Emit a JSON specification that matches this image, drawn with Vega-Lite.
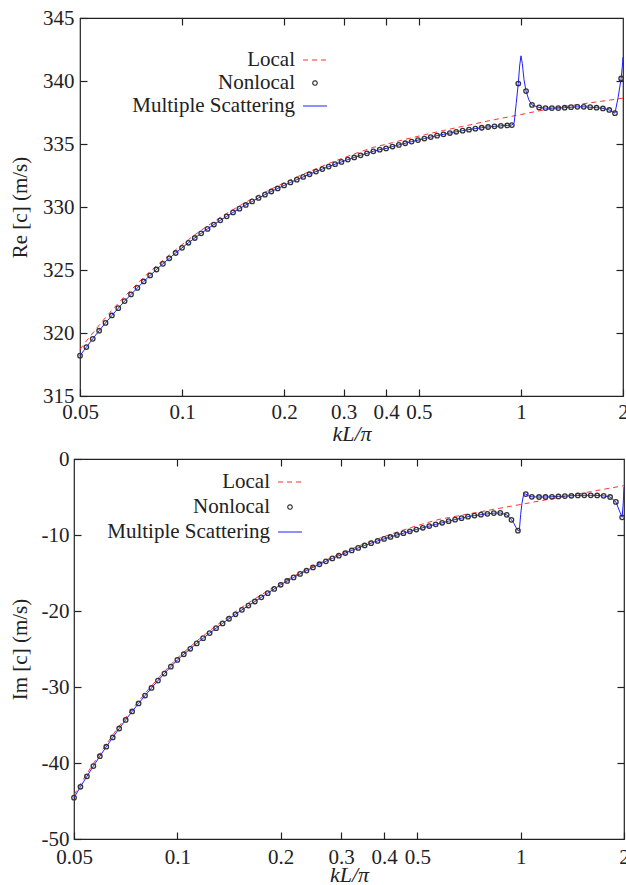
{
  "$schema": "https://vega.github.io/schema/vega-lite/v6.json",
  "background": "white",
  "padding": {"left": 7, "top": 6, "right": 0, "bottom": 0},
  "config": {
    "font": "Liberation Serif",
    "view": {"stroke": "#222222", "strokeWidth": 1.2},
    "axis": {
      "domain": false, "grid": false, "ticks": true,
      "tickColor": "#222222", "tickWidth": 1.2, "tickSize": -7,
      "labelFont": "Liberation Serif", "labelFontSize": 21, "labelColor": "#222222",
      "titleFont": "Liberation Serif", "titleFontSize": 21, "titleFontWeight": "normal", "titleColor": "#222222",
      "labelFlush": false, "labelOverlap": false
    }
  },
  "datasets": {
    "non": [
      {"x":0.05,"re":318.2,"im":-44.56},{"x":0.05221,"re":318.88,"im":-43.13},{"x":0.05453,"re":319.54,"im":-41.75},{"x":0.05694,"re":320.18,"im":-40.41},
      {"x":0.05946,"re":320.8,"im":-39.11},{"x":0.06209,"re":321.39,"im":-37.86},{"x":0.06484,"re":321.97,"im":-36.64},{"x":0.06771,"re":322.53,"im":-35.46},
      {"x":0.07071,"re":323.06,"im":-34.33},{"x":0.07384,"re":323.58,"im":-33.22},{"x":0.07711,"re":324.09,"im":-32.16},{"x":0.08052,"re":324.57,"im":-31.13},
      {"x":0.08409,"re":325.04,"im":-30.13},{"x":0.08781,"re":325.49,"im":-29.16},{"x":0.0917,"re":325.93,"im":-28.23},{"x":0.09576,"re":326.35,"im":-27.32},
      {"x":0.1,"re":326.76,"im":-26.44},{"x":0.10443,"re":327.16,"im":-25.69},{"x":0.10905,"re":327.54,"im":-24.97},{"x":0.11388,"re":327.91,"im":-24.26},
      {"x":0.11892,"re":328.26,"im":-23.58},{"x":0.12419,"re":328.61,"im":-22.91},{"x":0.12968,"re":328.94,"im":-22.26},{"x":0.13543,"re":329.26,"im":-21.63},
      {"x":0.14142,"re":329.57,"im":-21.02},{"x":0.14768,"re":329.87,"im":-20.43},{"x":0.15422,"re":330.16,"im":-19.85},{"x":0.16105,"re":330.44,"im":-19.29},
      {"x":0.16818,"re":330.72,"im":-18.75},{"x":0.17563,"re":330.98,"im":-18.2},{"x":0.1834,"re":331.23,"im":-17.65},{"x":0.19152,"re":331.47,"im":-17.1},
      {"x":0.2,"re":331.71,"im":-16.55},{"x":0.20885,"re":331.95,"im":-16.05},{"x":0.2181,"re":332.17,"im":-15.58},{"x":0.22776,"re":332.39,"im":-15.12},
      {"x":0.23784,"re":332.6,"im":-14.68},{"x":0.24837,"re":332.81,"im":-14.26},{"x":0.25937,"re":333.01,"im":-13.85},{"x":0.27085,"re":333.21,"im":-13.46},
      {"x":0.28284,"re":333.4,"im":-13.08},{"x":0.29537,"re":333.58,"im":-12.72},{"x":0.30844,"re":333.76,"im":-12.37},{"x":0.3221,"re":333.93,"im":-12.03},
      {"x":0.33636,"re":334.1,"im":-11.7},{"x":0.35125,"re":334.26,"im":-11.38},{"x":0.3668,"re":334.42,"im":-11.07},{"x":0.38304,"re":334.55,"im":-10.78},
      {"x":0.4,"re":334.65,"im":-10.52},{"x":0.41771,"re":334.8,"im":-10.26},{"x":0.4362,"re":334.93,"im":-10.0},{"x":0.45552,"re":335.06,"im":-9.76},
      {"x":0.47568,"re":335.19,"im":-9.51},{"x":0.49674,"re":335.31,"im":-9.28},{"x":0.51874,"re":335.43,"im":-9.05},{"x":0.5417,"re":335.55,"im":-8.82},
      {"x":0.56568,"re":335.66,"im":-8.6},{"x":0.59073,"re":335.77,"im":-8.39},{"x":0.61688,"re":335.87,"im":-8.18},{"x":0.6442,"re":335.97,"im":-7.98},
      {"x":0.67272,"re":336.06,"im":-7.78},{"x":0.7025,"re":336.14,"im":-7.59},{"x":0.7336,"re":336.22,"im":-7.45},{"x":0.76608,"re":336.29,"im":-7.33},
      {"x":0.8,"re":336.35,"im":-7.22},{"x":0.83542,"re":336.4,"im":-7.12},{"x":0.87241,"re":336.44,"im":-7.1},{"x":0.91103,"re":336.47,"im":-7.35},
      {"x":0.94,"re":336.5,"im":-8.0},{"x":0.982,"re":339.8,"im":-9.43},{"x":1.035,"re":339.2,"im":-4.62},{"x":1.078,"re":338.1,"im":-4.98},
      {"x":1.13137,"re":337.9,"im":-5.0},{"x":1.18146,"re":337.85,"im":-5.0},{"x":1.23377,"re":337.85,"im":-4.97},{"x":1.28839,"re":337.85,"im":-4.93},
      {"x":1.34543,"re":337.88,"im":-4.88},{"x":1.405,"re":337.92,"im":-4.84},{"x":1.46721,"re":337.95,"im":-4.8},{"x":1.53217,"re":337.95,"im":-4.78},
      {"x":1.6,"re":337.92,"im":-4.78},{"x":1.67083,"re":337.88,"im":-4.8},{"x":1.74482,"re":337.82,"im":-4.85},{"x":1.82206,"re":337.7,"im":-5.0},
      {"x":1.894,"re":337.45,"im":-5.65},{"x":1.975,"re":340.2,"im":-7.67}
    ],
    "ms": [
      {"x":0.05,"re":318.2,"im":-44.56},{"x":0.05221,"re":318.88,"im":-43.13},{"x":0.05453,"re":319.54,"im":-41.75},{"x":0.05694,"re":320.18,"im":-40.41},
      {"x":0.05946,"re":320.8,"im":-39.11},{"x":0.06209,"re":321.39,"im":-37.86},{"x":0.06484,"re":321.97,"im":-36.64},{"x":0.06771,"re":322.53,"im":-35.46},
      {"x":0.07071,"re":323.06,"im":-34.33},{"x":0.07384,"re":323.58,"im":-33.22},{"x":0.07711,"re":324.09,"im":-32.16},{"x":0.08052,"re":324.57,"im":-31.13},
      {"x":0.08409,"re":325.04,"im":-30.13},{"x":0.08781,"re":325.49,"im":-29.16},{"x":0.0917,"re":325.93,"im":-28.23},{"x":0.09576,"re":326.35,"im":-27.32},
      {"x":0.1,"re":326.76,"im":-26.44},{"x":0.10443,"re":327.16,"im":-25.69},{"x":0.10905,"re":327.54,"im":-24.97},{"x":0.11388,"re":327.91,"im":-24.26},
      {"x":0.11892,"re":328.26,"im":-23.58},{"x":0.12419,"re":328.61,"im":-22.91},{"x":0.12968,"re":328.94,"im":-22.26},{"x":0.13543,"re":329.26,"im":-21.63},
      {"x":0.14142,"re":329.57,"im":-21.02},{"x":0.14768,"re":329.87,"im":-20.43},{"x":0.15422,"re":330.16,"im":-19.85},{"x":0.16105,"re":330.44,"im":-19.29},
      {"x":0.16818,"re":330.72,"im":-18.75},{"x":0.17563,"re":330.98,"im":-18.2},{"x":0.1834,"re":331.23,"im":-17.65},{"x":0.19152,"re":331.47,"im":-17.1},
      {"x":0.2,"re":331.71,"im":-16.55},{"x":0.20885,"re":331.95,"im":-16.05},{"x":0.2181,"re":332.17,"im":-15.58},{"x":0.22776,"re":332.39,"im":-15.12},
      {"x":0.23784,"re":332.6,"im":-14.68},{"x":0.24837,"re":332.81,"im":-14.26},{"x":0.25937,"re":333.01,"im":-13.85},{"x":0.27085,"re":333.21,"im":-13.46},
      {"x":0.28284,"re":333.4,"im":-13.08},{"x":0.29537,"re":333.58,"im":-12.72},{"x":0.30844,"re":333.76,"im":-12.37},{"x":0.3221,"re":333.93,"im":-12.03},
      {"x":0.33636,"re":334.1,"im":-11.7},{"x":0.35125,"re":334.26,"im":-11.38},{"x":0.3668,"re":334.42,"im":-11.07},{"x":0.38304,"re":334.55,"im":-10.78},
      {"x":0.4,"re":334.65,"im":-10.52},{"x":0.41771,"re":334.8,"im":-10.26},{"x":0.4362,"re":334.93,"im":-10.0},{"x":0.45552,"re":335.06,"im":-9.76},
      {"x":0.47568,"re":335.19,"im":-9.51},{"x":0.49674,"re":335.31,"im":-9.28},{"x":0.51874,"re":335.43,"im":-9.05},{"x":0.5417,"re":335.55,"im":-8.82},
      {"x":0.56568,"re":335.66,"im":-8.6},{"x":0.59073,"re":335.77,"im":-8.39},{"x":0.61688,"re":335.87,"im":-8.18},{"x":0.6442,"re":335.97,"im":-7.98},
      {"x":0.67272,"re":336.06,"im":-7.78},{"x":0.7025,"re":336.14,"im":-7.59},{"x":0.7336,"re":336.22,"im":-7.45},{"x":0.76608,"re":336.29,"im":-7.33},
      {"x":0.8,"re":336.35,"im":-7.22},{"x":0.83542,"re":336.4,"im":-7.12},{"x":0.87241,"re":336.44,"im":-7.1},{"x":0.91103,"re":336.47,"im":-7.35},
      {"x":0.94,"re":336.5,"im":-8.0},{"x":0.955,"re":336.7,"im":-8.45},{"x":0.968,"re":338.2,"im":-8.95},{"x":0.982,"re":339.8,"im":-9.43},
      {"x":0.991,"re":341.2,"im":-9.45},{"x":1.0,"re":342.0,"im":-7.3},{"x":1.009,"re":341.4,"im":-5.8},{"x":1.021,"re":340.1,"im":-4.6},
      {"x":1.035,"re":339.2,"im":-4.62},{"x":1.055,"re":338.5,"im":-4.85},{"x":1.078,"re":338.1,"im":-4.98},
      {"x":1.13137,"re":337.9,"im":-5.0},{"x":1.18146,"re":337.85,"im":-5.0},{"x":1.23377,"re":337.85,"im":-4.97},{"x":1.28839,"re":337.85,"im":-4.93},
      {"x":1.34543,"re":337.88,"im":-4.88},{"x":1.405,"re":337.92,"im":-4.84},{"x":1.46721,"re":337.95,"im":-4.8},{"x":1.53217,"re":337.95,"im":-4.78},
      {"x":1.6,"re":337.92,"im":-4.78},{"x":1.67083,"re":337.88,"im":-4.8},{"x":1.74482,"re":337.82,"im":-4.85},{"x":1.82206,"re":337.7,"im":-5.0},
      {"x":1.894,"re":337.45,"im":-5.65},{"x":1.935,"re":338.7,"im":-6.7},{"x":1.975,"re":340.2,"im":-7.67},{"x":1.99,"re":341.1,"im":-5.8},{"x":2.0,"re":341.9,"im":-3.7}
    ],
    "loc": [
      {"x":0.05,"re":318.7,"im":-44.2},{"x":0.05221,"re":319.36,"im":-42.78},{"x":0.05453,"re":320.0,"im":-41.4},{"x":0.05694,"re":320.62,"im":-40.07},
      {"x":0.05946,"re":321.23,"im":-38.78},{"x":0.06209,"re":321.8,"im":-37.53},{"x":0.06484,"re":322.36,"im":-36.32},{"x":0.06771,"re":322.91,"im":-35.15},
      {"x":0.07071,"re":323.42,"im":-34.02},{"x":0.07384,"re":323.92,"im":-32.93},{"x":0.07711,"re":324.42,"im":-31.87},{"x":0.08052,"re":324.88,"im":-30.84},
      {"x":0.08409,"re":325.34,"im":-29.85},{"x":0.08781,"re":325.77,"im":-28.89},{"x":0.0917,"re":326.2,"im":-27.96},{"x":0.09576,"re":326.61,"im":-27.06},
      {"x":0.1,"re":327.01,"im":-26.19},{"x":0.10443,"re":327.41,"im":-25.43},{"x":0.10905,"re":327.79,"im":-24.69},{"x":0.11388,"re":328.15,"im":-23.97},
      {"x":0.11892,"re":328.5,"im":-23.28},{"x":0.12419,"re":328.84,"im":-22.6},{"x":0.12968,"re":329.17,"im":-21.95},{"x":0.13543,"re":329.49,"im":-21.31},
      {"x":0.14142,"re":329.79,"im":-20.69},{"x":0.14768,"re":330.09,"im":-20.09},{"x":0.15422,"re":330.38,"im":-19.51},{"x":0.16105,"re":330.65,"im":-18.94},
      {"x":0.16818,"re":330.93,"im":-18.39},{"x":0.17563,"re":331.18,"im":-17.86},{"x":0.1834,"re":331.43,"im":-17.34},{"x":0.19152,"re":331.67,"im":-16.84},
      {"x":0.2,"re":331.91,"im":-16.35},{"x":0.20885,"re":332.15,"im":-15.87},{"x":0.2181,"re":332.38,"im":-15.41},{"x":0.22776,"re":332.6,"im":-14.97},
      {"x":0.23784,"re":332.82,"im":-14.53},{"x":0.24837,"re":333.03,"im":-14.11},{"x":0.25937,"re":333.24,"im":-13.7},{"x":0.27085,"re":333.45,"im":-13.3},
      {"x":0.28284,"re":333.65,"im":-12.92},{"x":0.29537,"re":333.84,"im":-12.54},{"x":0.30844,"re":334.03,"im":-12.18},{"x":0.3221,"re":334.21,"im":-11.82},
      {"x":0.33636,"re":334.39,"im":-11.48},{"x":0.35125,"re":334.56,"im":-11.15},{"x":0.3668,"re":334.73,"im":-10.82},{"x":0.38304,"re":334.86,"im":-10.51},
      {"x":0.4,"re":334.98,"im":-10.21},{"x":0.41771,"re":335.11,"im":-9.91},{"x":0.4362,"re":335.24,"im":-9.62},{"x":0.45552,"re":335.37,"im":-9.34},
      {"x":0.47568,"re":335.49,"im":-9.07},{"x":0.49674,"re":335.61,"im":-8.81},{"x":0.51874,"re":335.73,"im":-8.55},{"x":0.5417,"re":335.85,"im":-8.3},
      {"x":0.56568,"re":335.96,"im":-8.06},{"x":0.59073,"re":336.07,"im":-7.86},{"x":0.61688,"re":336.18,"im":-7.71},{"x":0.6442,"re":336.29,"im":-7.55},
      {"x":0.67272,"re":336.4,"im":-7.4},{"x":0.7025,"re":336.5,"im":-7.24},{"x":0.7336,"re":336.61,"im":-7.09},{"x":0.76608,"re":336.72,"im":-6.93},
      {"x":0.8,"re":336.83,"im":-6.78},{"x":0.83542,"re":336.93,"im":-6.62},{"x":0.87241,"re":337.03,"im":-6.47},{"x":0.91103,"re":337.13,"im":-6.31},
      {"x":0.94,"re":337.2,"im":-6.2},{"x":0.982,"re":337.3,"im":-6.05},{"x":1.035,"re":337.42,"im":-5.86},{"x":1.078,"re":337.52,"im":-5.71},
      {"x":1.13137,"re":337.63,"im":-5.54},{"x":1.18146,"re":337.72,"im":-5.38},{"x":1.23377,"re":337.81,"im":-5.23},{"x":1.28839,"re":337.89,"im":-5.07},
      {"x":1.34543,"re":337.97,"im":-4.92},{"x":1.405,"re":338.05,"im":-4.76},{"x":1.46721,"re":338.13,"im":-4.61},{"x":1.53217,"re":338.2,"im":-4.45},
      {"x":1.6,"re":338.27,"im":-4.3},{"x":1.67083,"re":338.34,"im":-4.14},{"x":1.74482,"re":338.41,"im":-3.99},{"x":1.82206,"re":338.48,"im":-3.83},
      {"x":1.894,"re":338.54,"im":-3.7},{"x":1.975,"re":338.62,"im":-3.55},{"x":2.0,"re":338.64,"im":-3.5}
    ]
  },
  "spacing": 2,
  "resolve": {"scale": {"x": "independent", "y": "independent", "color": "independent"}, "legend": {"color": "independent"}},
  "vconcat": [
    {
      "spacing": 0,
      "resolve": {"scale": {"x": "independent", "y": "independent", "color": "independent"}, "legend": {"color": "independent"}},
      "hconcat": [
        {
          "width": 1, "height": 1,
          "view": {"stroke": null},
          "data": {"values": [{"v": 0}]},
          "mark": {"type": "rect", "opacity": 0},
          "encoding": {}
        },
        {
          "width": 543, "height": 378,
          "resolve": {"axis": {"x": "independent", "y": "independent"}},
          "layer": [
            {
              "data": {"name": "loc"},
              "mark": {"type": "line", "strokeDash": [5, 4], "strokeWidth": 1},
              "encoding": {
                "x": {"field": "x", "type": "quantitative", "scale": {"type": "log", "domain": [0.05, 2], "nice": false},
                      "axis": {"orient": "bottom", "values": [0.05, 0.1, 0.2, 0.3, 0.4, 0.5, 1, 2], "labelExpr": "'' + datum.value", "labelPadding": 12, "title": "kL/π", "titleFontStyle": "italic", "titleFontSize": 22, "titlePadding": 0, "minExtent": 27, "maxExtent": 27}},
                "y": {"field": "re", "type": "quantitative", "scale": {"domain": [315, 345], "nice": false, "zero": false},
                      "axis": {"orient": "left", "values": [315, 320, 325, 330, 335, 340, 345], "labelExpr": "'' + datum.value", "labelPadding": 13, "title": "Re [c] (m/s)", "titlePadding": 15, "minExtent": 35, "maxExtent": 35}},
                "color": {"datum": "Local", "type": "nominal",
                          "scale": {"domain": ["Local", "Nonlocal", "Multiple Scattering"], "range": ["#ff3030", "#333333", "#2020ff"]},
                          "legend": {
                            "orient": "none", "legendX": 0, "legendY": 29, "title": null, "padding": 0, "direction": "vertical",
                            "labelAlign": "right", "labelOffset": -33, "symbolOffset": 222,
                            "labelFont": "Liberation Serif", "labelFontSize": 21, "labelColor": "#222222", "labelLimit": 400,
                            "symbolSize": 361, "symbolStrokeWidth": 1.2, "symbolType": "stroke", "rowPadding": 0,
                            "encode": {"symbols": {"update": {
                              "shape": {"signal": "datum.value === 'Nonlocal' ? 'circle' : 'stroke'"},
                              "size": {"signal": "datum.value === 'Nonlocal' ? 20 : 576"},
                              "strokeDash": {"signal": "datum.value === 'Local' ? [5,4] : [1,0]"},
                              "stroke": {"signal": "datum.value === 'Local' ? '#ff3030' : datum.value === 'Nonlocal' ? '#333333' : '#2020ff'"},
                              "fill": {"value": "transparent"},
                              "strokeWidth": {"value": 1.2},
                              "opacity": {"value": 1}
                            }}}
                          }}
              }
            },
            {
              "data": {"name": "ms"},
              "mark": {"type": "line", "strokeWidth": 1},
              "encoding": {
                "x": {"field": "x", "type": "quantitative", "axis": null},
                "y": {"field": "re", "type": "quantitative", "axis": null},
                "color": {"datum": "Multiple Scattering", "type": "nominal"}
              }
            },
            {
              "data": {"name": "non"},
              "mark": {"type": "point", "shape": "circle", "filled": false, "size": 20, "strokeWidth": 1.3, "opacity": 1},
              "encoding": {
                "x": {"field": "x", "type": "quantitative", "axis": {"orient": "top", "values": [0.1, 0.2, 0.3, 0.4, 0.5, 1], "labels": false, "title": null, "minExtent": 0, "maxExtent": 0}},
                "y": {"field": "re", "type": "quantitative", "axis": {"orient": "right", "values": [320, 325, 330, 335, 340], "labels": false, "title": null, "minExtent": 0, "maxExtent": 0}},
                "color": {"datum": "Nonlocal", "type": "nominal"}
              }
            }
          ]
        }
      ]
    },
    {
      "spacing": 0,
      "resolve": {"scale": {"x": "independent", "y": "independent", "color": "independent"}, "legend": {"color": "independent"}},
      "hconcat": [
        {
          "width": 1, "height": 1,
          "view": {"stroke": null},
          "data": {"values": [{"v": 0}]},
          "mark": {"type": "rect", "opacity": 0},
          "encoding": {}
        },
        {
          "width": 550, "height": 380,
          "resolve": {"axis": {"x": "independent", "y": "independent"}},
          "layer": [
            {
              "data": {"name": "loc"},
              "mark": {"type": "line", "strokeDash": [5, 4], "strokeWidth": 1},
              "encoding": {
                "x": {"field": "x", "type": "quantitative", "scale": {"type": "log", "domain": [0.05, 2], "nice": false},
                      "axis": {"orient": "bottom", "values": [0.05, 0.1, 0.2, 0.3, 0.4, 0.5, 1, 2], "labelExpr": "'' + datum.value", "labelPadding": 14, "title": "kL/π", "titleFontStyle": "italic", "titleFontSize": 22, "titlePadding": 0, "minExtent": 25, "maxExtent": 25}},
                "y": {"field": "im", "type": "quantitative", "scale": {"domain": [-50, 0], "nice": false, "zero": false},
                      "axis": {"orient": "left", "values": [-50, -40, -30, -20, -10, 0], "labelExpr": "'' + datum.value", "labelPadding": 12, "title": "Im [c] (m/s)", "titlePadding": 15, "minExtent": 29, "maxExtent": 29}},
                "color": {"datum": "Local", "type": "nominal",
                          "scale": {"domain": ["Local", "Nonlocal", "Multiple Scattering"], "range": ["#ff3030", "#333333", "#2020ff"]},
                          "legend": {
                            "orient": "none", "legendX": 0, "legendY": 10, "title": null, "padding": 0, "direction": "vertical",
                            "labelAlign": "right", "labelOffset": -33, "symbolOffset": 203,
                            "labelFont": "Liberation Serif", "labelFontSize": 21, "labelColor": "#222222", "labelLimit": 400,
                            "symbolSize": 361, "symbolStrokeWidth": 1.2, "symbolType": "stroke", "rowPadding": 2,
                            "encode": {"symbols": {"update": {
                              "shape": {"signal": "datum.value === 'Nonlocal' ? 'circle' : 'stroke'"},
                              "size": {"signal": "datum.value === 'Nonlocal' ? 20 : 576"},
                              "strokeDash": {"signal": "datum.value === 'Local' ? [5,4] : [1,0]"},
                              "stroke": {"signal": "datum.value === 'Local' ? '#ff3030' : datum.value === 'Nonlocal' ? '#333333' : '#2020ff'"},
                              "fill": {"value": "transparent"},
                              "strokeWidth": {"value": 1.2},
                              "opacity": {"value": 1}
                            }}}
                          }}
              }
            },
            {
              "data": {"name": "ms"},
              "mark": {"type": "line", "strokeWidth": 1},
              "encoding": {
                "x": {"field": "x", "type": "quantitative", "axis": null},
                "y": {"field": "im", "type": "quantitative", "axis": null},
                "color": {"datum": "Multiple Scattering", "type": "nominal"}
              }
            },
            {
              "data": {"name": "non"},
              "mark": {"type": "point", "shape": "circle", "filled": false, "size": 20, "strokeWidth": 1.3, "opacity": 1},
              "encoding": {
                "x": {"field": "x", "type": "quantitative", "axis": {"orient": "top", "values": [0.1, 0.2, 0.3, 0.4, 0.5, 1], "labels": false, "title": null, "minExtent": 0, "maxExtent": 0}},
                "y": {"field": "im", "type": "quantitative", "axis": {"orient": "right", "values": [-40, -30, -20, -10], "labels": false, "title": null, "minExtent": 0, "maxExtent": 0}},
                "color": {"datum": "Nonlocal", "type": "nominal"}
              }
            }
          ]
        }
      ]
    }
  ]
}
